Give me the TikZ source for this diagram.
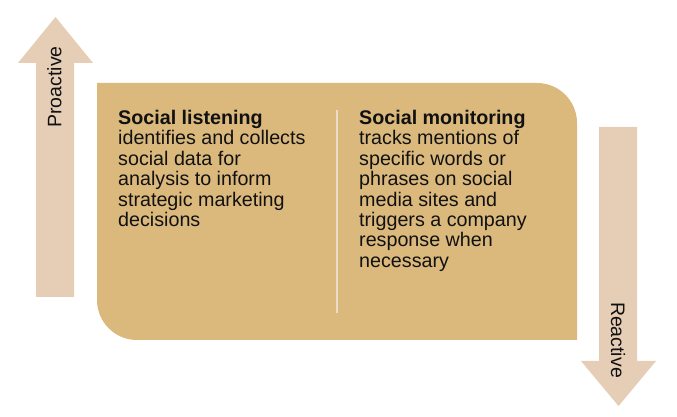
\documentclass[tikz,border=0pt]{standalone}
\usepackage{fontspec}
\setmainfont{Liberation Sans}
\usetikzlibrary{positioning}
\definecolor{boxtan}{HTML}{DBB97C}
\definecolor{arrowtan}{HTML}{E5CDB6}
\definecolor{divtan}{HTML}{EDDCC6}
\definecolor{inkblack}{HTML}{111111}
\tikzset{shaft/.style={fill=arrowtan}}
\tikzset{col/.style={anchor=north west, inner sep=0pt, align=left, text=inkblack,
    font=\fontsize{19.7}{20.4}\selectfont}}
\tikzset{side/.style={inner sep=0pt, text=inkblack, font=\fontsize{19.5}{20}\selectfont}}

\begin{document}
\begin{tikzpicture}[x=1pt, y=1pt]
\useasboundingbox (0,0) rectangle (677,417);

% proactive arrow (up)
\fill[shaft] (36,120) -- (36,354) -- (18,354) -- (55.5,400)
  -- (93,354) -- (74,354) -- (74,120) -- cycle;
% reactive arrow (down)
\fill[shaft] (599,290) -- (599,56) -- (581,56) -- (618.5,11)
  -- (656,56) -- (637,56) -- (637,290) -- cycle;

% main box
\fill[boxtan] (97,334) -- (537,334) arc[start angle=90, end angle=0, radius=40]
  -- (577,77) -- (137,77) arc[start angle=270, end angle=180, radius=40] -- cycle;

\coordinate (divtop) at (337,307);
\coordinate (divbot) at (337,104);
\draw[divtan, line width=1.8pt] (divtop) -- (divbot);

\node[col] (listen) at (118,307) {\textbf{Social listening}\\
  identifies and collects\\ social data for\\ analysis to inform\\
  strategic marketing\\ decisions};
\node[col] (monitor) at (359,307) {\textbf{Social monitoring}\\
  tracks mentions of\\ specific words or\\ phrases on social\\
  media sites and\\ triggers a company\\ response when\\ necessary};

\node[side, rotate=90] (pro) at (54.5,330) {Proactive};
\node[side, rotate=-90] (re) at (618,77) {Reactive};
\end{tikzpicture}
\end{document}
